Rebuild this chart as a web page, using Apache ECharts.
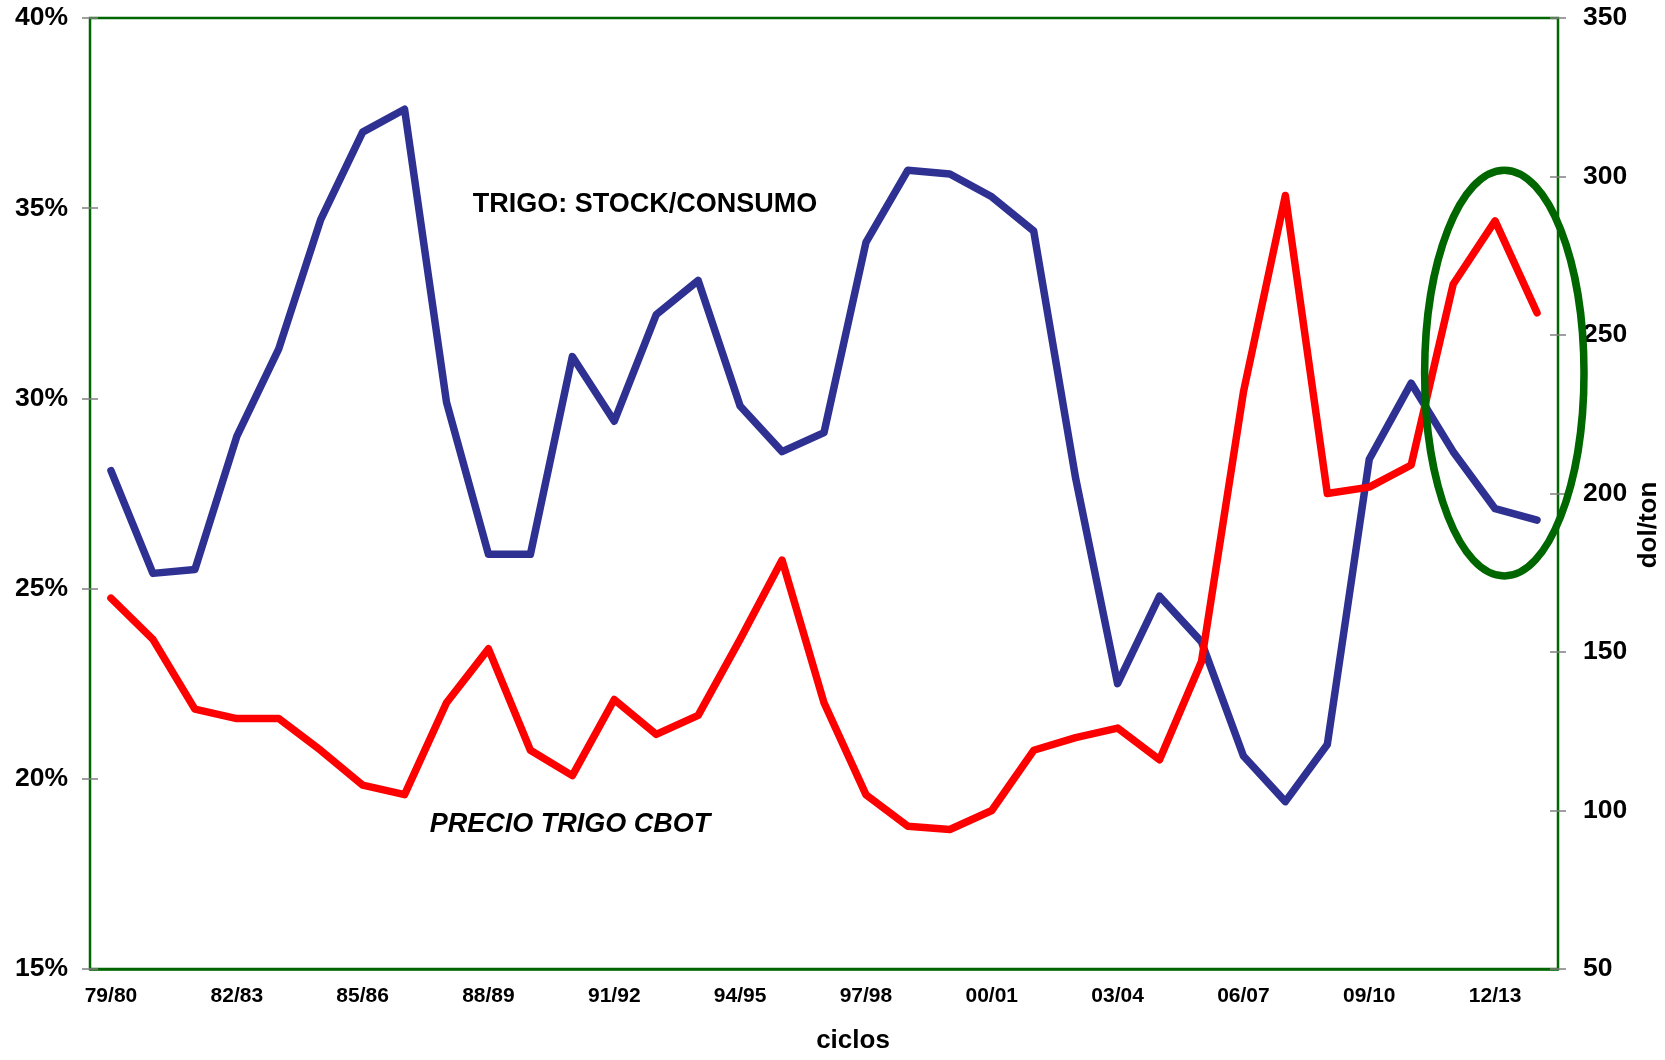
<!DOCTYPE html>
<html><head><meta charset="utf-8">
<script src="https://cdn.jsdelivr.net/npm/echarts@6/dist/echarts.min.js"></script>
<style>html,body{margin:0;padding:0;background:#fff}#c{width:1665px;height:1060px}</style>
</head><body><div id="c"></div>
<script>
const categories = ['79/80','80/81','81/82','82/83','83/84','84/85','85/86','86/87','87/88','88/89','89/90','90/91','91/92','92/93','93/94','94/95','95/96','96/97','97/98','98/99','99/00','00/01','01/02','02/03','03/04','04/05','05/06','06/07','07/08','08/09','09/10','10/11','11/12','12/13','13/14'];
const stockConsumo = [28.1,25.4,25.5,29.0,31.3,34.7,37.0,37.6,29.9,25.9,25.9,31.1,29.4,32.2,33.1,29.8,28.6,29.1,34.1,36.0,35.9,35.3,34.4,27.9,22.5,24.8,23.6,20.6,19.4,20.9,28.4,30.4,28.6,27.1,26.8];
const precioCbot = [167,154,132,129,129,119,108,105,134,151,119,111,135,124,130,154,179,134,105,95,94,100,119,123,126,116,147,232,294,200,202,209,266,286,257];
const leftTicks = [15, 40, 5];
const rightTicks = [50, 350, 50];
// highlight ellipse: [category index, right-axis value, x radius (categories), y radius (dol/ton)]
const highlight = [33.22, 238, 1.9, 64];

const FONT = 'Liberation Sans, Arial, sans-serif';
const GREEN = '#006600';
const chart = echarts.init(document.getElementById('c'));

const baseLabel = {fontFamily: FONT, fontWeight: 'bold', color: '#000'};
function yAx(pos, t, fmt, margin, inside, tickColor) {
  return {
    type: 'value', position: pos, min: t[0], max: t[1], interval: t[2],
    splitLine: {show: false},
    axisLine: {show: !inside, lineStyle: {color: GREEN, width: 2}},
    axisTick: {show: true, inside: inside, length: 8, lineStyle: {color: tickColor, width: 1.5}},
    axisLabel: inside ? {show: false} : Object.assign({formatter: fmt, fontSize: 26.5, margin: margin}, baseLabel)
  };
}

chart.setOption({
  animation: false,
  backgroundColor: '#fff',
  grid: {left: 90, right: 107, top: 18, bottom: 91, show: true, borderColor: GREEN, borderWidth: 2.5, backgroundColor: 'transparent'},
  xAxis: [
    {type: 'category', data: categories, position: 'bottom', boundaryGap: true,
     axisLine: {lineStyle: {color: GREEN, width: 2.5}},
     axisTick: {interval: 0, length: 7, lineStyle: {color: '#444', width: 1.5}},
     axisLabel: Object.assign({interval: 2, margin: 17, fontSize: 21}, baseLabel)},
    {type: 'category', data: categories, position: 'bottom', boundaryGap: true,
     axisLine: {show: false},
     axisTick: {interval: 0, inside: true, length: 7, lineStyle: {color: '#444', width: 1.5}},
     axisLabel: {show: false}}
  ],
  yAxis: [
    yAx('left', leftTicks, '{value}%', 22, false, '#808080'),
    yAx('right', rightTicks, '{value}', 25, false, '#808080'),
    yAx('left', leftTicks, '{value}%', 22, true, '#808080'),
    yAx('right', rightTicks, '{value}', 25, true, '#808080')
  ],
  series: [
    {name: 'TRIGO: STOCK/CONSUMO', type: 'line', xAxisIndex: 0, yAxisIndex: 0, data: stockConsumo,
     symbol: 'none', lineStyle: {color: '#2E3192', width: 7.5, cap: 'round', join: 'round'}, z: 3},
    {name: 'PRECIO TRIGO CBOT', type: 'line', xAxisIndex: 0, yAxisIndex: 1, data: precioCbot,
     symbol: 'none', lineStyle: {color: '#FF0000', width: 7.5, cap: 'round', join: 'round'}, z: 4}
  ]
});

// category axis converts only whole indices, so interpolate between two neighbours
const p0 = chart.convertToPixel({xAxisIndex: 0}, 0);
const p1 = chart.convertToPixel({xAxisIndex: 0}, 1);
const step = p1 - p0;
const cx = p0 + highlight[0] * step;
const rx = highlight[2] * step;
const cy = chart.convertToPixel({yAxisIndex: 1}, highlight[1]);
const cy2 = chart.convertToPixel({yAxisIndex: 1}, highlight[1] + highlight[3]);

chart.setOption({
  graphic: [
    {type: 'ellipse', shape: {cx: cx, cy: cy, rx: rx, ry: Math.abs(cy - cy2)},
     style: {fill: 'none', stroke: GREEN, lineWidth: 7.5}, z: 100},
    {type: 'text', x: 645, y: 205, z: 100,
     style: {text: 'TRIGO: STOCK/CONSUMO', font: 'bold 27px ' + FONT, fill: '#000', align: 'center', verticalAlign: 'middle'}},
    {type: 'text', x: 570, y: 825, z: 100,
     style: {text: 'PRECIO TRIGO CBOT', font: 'italic bold 27px ' + FONT, fill: '#000', align: 'center', verticalAlign: 'middle'}},
    {type: 'text', x: 853, y: 1041, z: 100,
     style: {text: 'ciclos', font: 'bold 26px ' + FONT, fill: '#000', align: 'center', verticalAlign: 'middle'}},
    {type: 'text', x: 1649, y: 525, rotation: Math.PI / 2, z: 100,
     style: {text: 'dol/ton', font: 'bold 26px ' + FONT, fill: '#000', align: 'center', verticalAlign: 'middle'}}
  ]
});
</script>
</body></html>
